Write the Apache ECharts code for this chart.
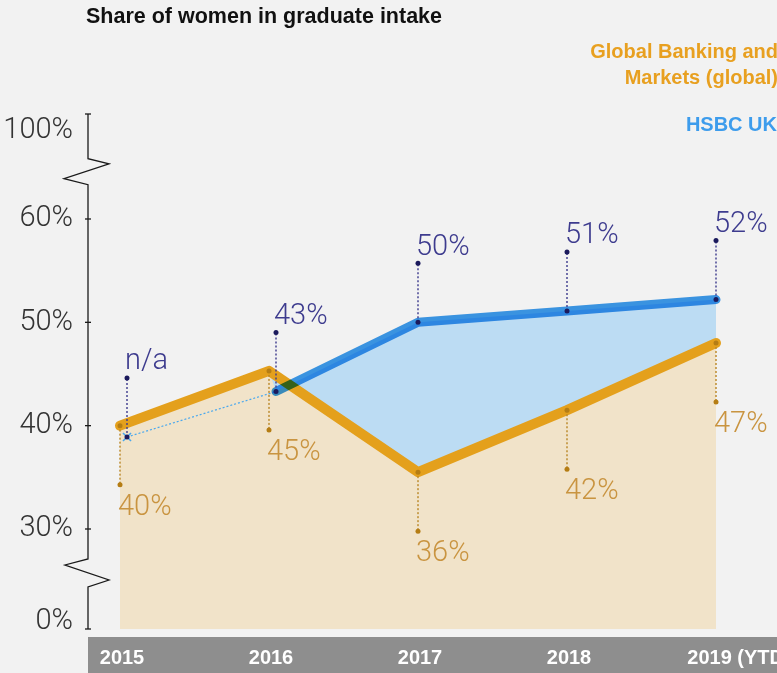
<!DOCTYPE html>
<html>
<head>
<meta charset="utf-8">
<script src="https://cdn.jsdelivr.net/npm/echarts@6/dist/echarts.min.js"></script>
<style>
  html, body { margin: 0; padding: 0; background: #f2f2f2; }
  #chart { width: 777px; height: 673px; }
  /* the HSBC UK line sits on its own layer and multiplies onto what is below */
  #chart canvas[data-zr-dom-id="zr_1"] { mix-blend-mode: multiply; }
</style>
</head>
<body>
<div id="chart"></div>
<script>
// data
const years = ['2015', '2016', '2017', '2018', '2019 (YTD)'];
const gbmValues = [40, 45.3, 35.5, 41.5, 48];
const gbmLabels = ['40%', '45%', '36%', '42%', '47%'];
const ukValues = [null, 43.3, 50, 51.1, 52.2];
const ukLabels = ['n/a', '43%', '50%', '51%', '52%'];
const ukNaValue = 38.9; // where the 'x' for the missing 2015 value sits
const yTicks = [0, 30, 40, 50, 60, 100];

const ORANGE = '#e4a01c';
const BLUE = '#3d9bec';
const AXIS_X = 88;
const LEADER = 59;
const ukNudge = (i) => (i < 2 ? 7 : 0);
const noNudge = () => 0;

// broken axis: 30-60 is linear, 0-30 and 60-100 are squeezed
function toAxis(v) {
  if (v > 60) return 60 + (v - 60) * 0.254;
  if (v < 30) return 30 - (30 - v) * 0.3226;
  return v;
}

function tickLabel(val) {
  const t = yTicks.find((t) => Math.abs(toAxis(t) - val) < 1e-6);
  if (t === undefined) return '';
  if (t === 100) return '{top|100%}';
  if (t === 0) return '{bot|0%}';
  return t + '%';
}

function pts(values) {
  const out = [];
  values.forEach((v, i) => {
    if (v != null) out.push([i, toAxis(v)]);
  });
  return out;
}

function lineSeries(values, color, width, layer, nudge) {
  const data = pts(values);
  return {
    type: 'custom',
    zlevel: layer.zlevel,
    z: layer.z,
    silent: true,
    data,
    renderItem(params, api) {
      if (params.dataIndex !== 0) return null;
      const points = data.map(([i, a]) => {
        const p = api.coord([i, a]);
        return [p[0] + nudge(i), p[1]];
      });
      return {
        type: 'polyline',
        shape: { points },
        style: {
          stroke: color,
          lineWidth: width,
          fill: null,
          lineCap: 'round',
          lineJoin: 'round',
        },
      };
    },
  };
}

const gbmArea = {
  type: 'custom',
  z: 1,
  silent: true,
  data: pts(gbmValues),
  renderItem(params, api) {
    if (params.dataIndex !== 0) return null;
    const data = pts(gbmValues);
    const top = data.map(([i, a]) => api.coord([i, a]));
    const base = api.coord([data[data.length - 1][0], toAxis(0)])[1];
    const points = top.concat([
      [top[top.length - 1][0], base],
      [top[0][0], base],
    ]);
    return { type: 'polygon', shape: { points }, style: { fill: '#f1e3c9' } };
  },
};

const ukBand = {
  type: 'custom',
  z: 2,
  silent: true,
  data: pts(ukValues),
  renderItem(params, api) {
    if (params.dataIndex !== 0) return null;
    const upper = pts(ukValues).map(([i, a]) => {
      const p = api.coord([i, a]);
      return [p[0] + ukNudge(i), p[1]];
    });
    const lower = pts(gbmValues)
      .filter(([i]) => ukValues[i] != null)
      .map(([i, a]) => api.coord([i, a]))
      .reverse();
    return {
      type: 'polygon',
      shape: { points: upper.concat(lower) },
      style: { fill: '#bcdcf3' },
    };
  },
};

// thin dotted link from the n/a cross to the first HSBC UK value
const naLink = {
  type: 'custom',
  z: 5,
  silent: true,
  data: [[0, toAxis(ukNaValue)]],
  renderItem(params, api) {
    const a = api.coord([0, toAxis(ukNaValue)]);
    const b = api.coord([1, toAxis(ukValues[1])]);
    const x = a[0] + ukNudge(0);
    const y = a[1];
    const c = '#4aa8ee';
    return {
      type: 'group',
      children: [
        {
          type: 'line',
          shape: { x1: x, y1: y, x2: b[0] + ukNudge(1), y2: b[1] },
          style: { stroke: c, lineWidth: 1.2, lineDash: [2, 2] },
        },
        { type: 'line', shape: { x1: x - 4, y1: y - 4, x2: x + 4, y2: y + 4 }, style: { stroke: c, lineWidth: 1.6 } },
        { type: 'line', shape: { x1: x - 4, y1: y + 4, x2: x + 4, y2: y - 4 }, style: { stroke: c, lineWidth: 1.6 } },
      ],
    };
  },
};

function labelSeries(anchors, texts, dir, textGap, colors, nudge) {
  return {
    type: 'custom',
    zlevel: 2,
    silent: true,
    data: anchors.map((v, i) => [i, toAxis(v)]),
    renderItem(params, api) {
      const i = api.value(0);
      const p = api.coord([i, api.value(1)]);
      const x = p[0] + nudge(i);
      const y = p[1];
      const y2 = y + dir * LEADER;
      return {
        type: 'group',
        children: [
          {
            type: 'line',
            shape: { x1: x, y1: y, x2: x, y2 },
            style: { stroke: colors.leader, lineWidth: 1.4, lineDash: [2, 2] },
          },
          { type: 'circle', shape: { cx: x, cy: y, r: 2.5 }, style: { fill: colors.dot } },
          { type: 'circle', shape: { cx: x, cy: y2, r: 2.5 }, style: { fill: colors.dot } },
          {
            type: 'text',
            x: x - 2,
            y: y2 + dir * textGap,
            style: {
              text: texts[i],
              fill: colors.text,
              fontSize: 29,
              fontWeight: 300,
              fontFamily: 'Roboto',
              align: 'left',
              verticalAlign: 'middle',
            },
          },
        ],
      };
    },
  };
}

// y axis line with the two zigzag breaks
const brokenAxis = {
  type: 'custom',
  z: 7,
  silent: true,
  data: [[0, toAxis(0)]],
  renderItem(params, api) {
    const y = (v) => api.coord([0, toAxis(v)])[1];
    const x = AXIS_X;
    const y0 = y(0), y30 = y(30), y60 = y(60), y100 = y(100);
    const ct = y60 - 0.45 * (y60 - y100);
    const cb = y30 + 0.44 * (y0 - y30);
    const stroke = { stroke: '#1a1a1a', lineWidth: 1.3, fill: null };
    const children = [
      {
        type: 'polyline',
        shape: {
          points: [
            [x, y100], [x, ct - 13], [x + 21, ct - 8], [x - 24, ct + 7], [x, ct + 13],
            [x, cb - 14], [x - 23, cb - 8], [x + 21, cb + 7], [x, cb + 14], [x, y0],
          ],
        },
        style: stroke,
      },
      { type: 'line', shape: { x1: x - 3, y1: y100, x2: x + 3, y2: y100 }, style: stroke },
      { type: 'line', shape: { x1: x - 3, y1: y0, x2: x + 3, y2: y0 }, style: stroke },
    ];
    [30, 40, 50, 60].forEach((t) => {
      children.push({ type: 'line', shape: { x1: x - 3, y1: y(t), x2: x + 3, y2: y(t) }, style: stroke });
    });
    return { type: 'group', children };
  },
};

const legendFont = { fontSize: 20, fontWeight: 'bold', fontFamily: 'Liberation Sans' };

const chart = echarts.init(document.getElementById('chart'));
chart.setOption({
  backgroundColor: '#f2f2f2',
  animation: false,
  title: {
    text: 'Share of women in graduate intake',
    left: 81,
    top: 1,
    textStyle: { fontSize: 21.5, fontWeight: 'bold', color: '#111', fontFamily: 'Liberation Sans' },
  },
  grid: { left: 120, right: 61, top: 114, bottom: 44, outerBoundsMode: 'none' },
  xAxis: {
    type: 'category',
    data: years,
    boundaryGap: false,
    z: 10,
    axisLine: { show: false },
    axisTick: { show: false },
    splitLine: { show: false },
    axisLabel: {
      interval: 0,
      margin: 19,
      color: '#fff',
      fontSize: 20,
      fontWeight: 'bold',
      fontFamily: 'Liberation Sans',
      hideOverlap: false,
      formatter: (v, i) => (i === years.length - 1 ? '{last|' + v + '}' : '{yr|' + v + '}'),
      rich: {
        yr: { color: '#fff', fontSize: 20, fontWeight: 'bold', fontFamily: 'Liberation Sans', padding: [0, 0, 0, 4] },
        last: { color: '#fff', fontSize: 20, fontWeight: 'bold', fontFamily: 'Liberation Sans', padding: [0, 0, 0, 46] },
      },
    },
  },
  yAxis: {
    type: 'value',
    min: toAxis(0),
    max: toAxis(100),
    offset: 32,
    axisLine: { show: false },
    axisTick: { show: false },
    splitLine: { show: false },
    axisLabel: {
      customValues: yTicks.map(toAxis),
      margin: 15,
      color: '#333',
      fontSize: 29,
      fontWeight: 300,
      fontFamily: 'Roboto',
      formatter: tickLabel,
      rich: {
        top: { fontSize: 29, fontWeight: 300, fontFamily: 'Roboto', color: '#333', padding: [34, 0, 0, 0] },
        bot: { fontSize: 29, fontWeight: 300, fontFamily: 'Roboto', color: '#333', padding: [0, 0, 14, 0] },
      },
    },
  },
  graphic: [
    {
      type: 'rect',
      z: 0,
      silent: true,
      shape: { x: 88, y: 637, width: 689, height: 36 },
      style: { fill: '#8e8e8e' },
    },
    {
      type: 'text',
      right: -1,
      top: 42,
      silent: true,
      style: { text: 'Global Banking and', fill: '#e8a020', ...legendFont },
    },
    {
      type: 'text',
      right: -1,
      top: 68,
      silent: true,
      style: { text: 'Markets (global)', fill: '#e8a020', ...legendFont },
    },
    {
      type: 'text',
      right: 0,
      top: 115,
      silent: true,
      style: { text: 'HSBC UK', fill: '#3d9cec', ...legendFont },
    },
  ],
  series: [
    gbmArea,
    ukBand,
    naLink,
    brokenAxis,
    lineSeries(gbmValues, ORANGE, 10, { zlevel: 0, z: 3 }, noNudge),
    lineSeries(ukValues, BLUE, 9, { zlevel: 1, z: 2 }, ukNudge),
    labelSeries(gbmValues, gbmLabels, 1, 23, { leader: '#b98625', dot: '#b57d14', text: '#c99440' }, noNudge),
    labelSeries(
      ukValues.map((v) => (v == null ? ukNaValue : v)),
      ukLabels,
      -1,
      16,
      { leader: '#3d3b8e', dot: '#1b1a5c', text: '#3d3b8e' },
      ukNudge
    ),
  ],
});
</script>
</body>
</html>
